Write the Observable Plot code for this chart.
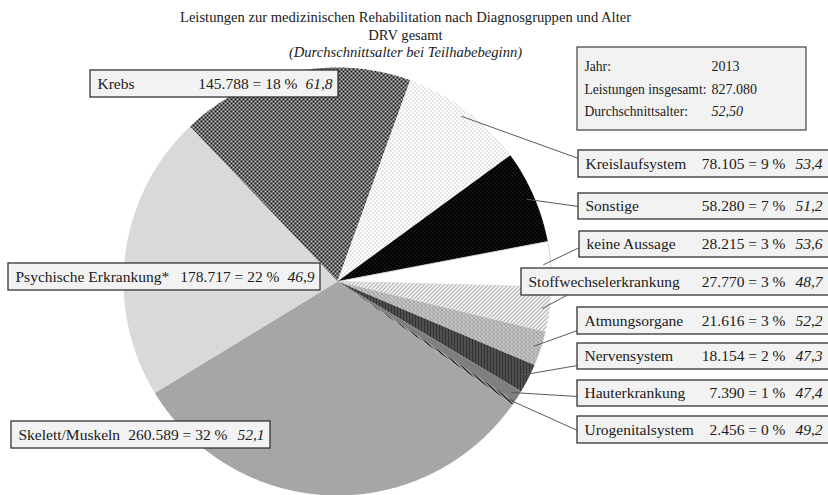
<!DOCTYPE html>
<html><head><meta charset="utf-8">
<script src="https://cdn.jsdelivr.net/npm/d3@7"></script>
<script src="https://cdn.jsdelivr.net/npm/@observablehq/plot@0.6"></script>
<style>
html,body{margin:0;padding:0;background:#fff;}
#chart{width:828px;height:495px;overflow:hidden;}
#chart svg text{font-family:"Liberation Serif","Times New Roman",serif;}
</style></head><body><div id="chart"></div>
<script>
// ---------- data ----------
const categories = ["Krebs","Kreislaufsystem","Sonstige","keine Aussage","Stoffwechselerkrankung","Atmungsorgane","Nervensystem","Hauterkrankung","Urogenitalsystem","Skelett/Muskeln","Psychische Erkrankung*"];
const counts = [145788,78105,58280,28215,27770,21616,18154,7390,2456,260589,178717];
const ages = [61.8,53.4,51.2,53.6,48.7,52.2,47.3,47.4,49.2,52.1,46.9];
const titleLines = ["Leistungen zur medizinischen Rehabilitation nach Diagnosgruppen und Alter","DRV gesamt","(Durchschnittsalter bei Teilhabebeginn)"];
const infoLabels = ["Jahr:","Leistungen insgesamt:","Durchschnittsalter:"];
const infoYear = "2013";
const meanAge = 52.50;

// ---------- styles ----------
const fills = ["url(#p-krebs)","url(#p-kreis)","url(#p-sonst)","#ffffff","url(#p-stoff)","url(#p-atm)","url(#p-nerv)","#7f7f7f","url(#p-uro)","#a6a6a6","#d9d9d9"];
const strokes = ["none","none","none","#c8c8c8","none","none","none","none","none","none","none"];
const patternDefs = `
<pattern id="p-krebs" width="4" height="4" patternUnits="userSpaceOnUse"><rect width="4" height="4" fill="#c4c4c4"/><rect width="2" height="2" fill="#111"/><rect x="2" y="2" width="2" height="2" fill="#111"/></pattern>
<pattern id="p-kreis" width="4" height="4" patternUnits="userSpaceOnUse"><rect width="4" height="4" fill="#fff"/><rect width="1" height="1" fill="#9a9a9a"/><rect x="2" y="2" width="1" height="1" fill="#9a9a9a"/></pattern>
<pattern id="p-sonst" width="4" height="4" patternUnits="userSpaceOnUse"><rect width="4" height="4" fill="#000"/><rect width="1" height="1" fill="#4a4a4a"/><rect x="2" y="2" width="1" height="1" fill="#4a4a4a"/></pattern>
<pattern id="p-stoff" width="4" height="4" patternUnits="userSpaceOnUse"><rect width="4" height="4" fill="#fff"/><path d="M0,4L4,0M-1,1L1,-1M3,5L5,3" stroke="#6e6e6e" stroke-width="1"/></pattern>
<pattern id="p-atm" width="4" height="4" patternUnits="userSpaceOnUse"><rect width="4" height="4" fill="#eeeeee"/><rect width="1" height="1" fill="#333"/><rect x="2" y="0" width="1" height="1" fill="#555"/><rect x="1" y="1" width="1" height="1" fill="#888"/><rect x="1" y="2" width="1" height="1" fill="#333"/><rect x="3" y="2" width="1" height="1" fill="#555"/><rect x="3" y="3" width="1" height="1" fill="#888"/></pattern>
<pattern id="p-nerv" width="3" height="3" patternUnits="userSpaceOnUse"><rect width="3" height="3" fill="#333"/><rect x="2" width="1" height="3" fill="#6a6a6a"/></pattern>
<pattern id="p-uro" width="4" height="4" patternUnits="userSpaceOnUse"><rect width="4" height="4" fill="#fff"/><path d="M0,0L4,4M-1,3L1,5M3,-1L5,1" stroke="#000" stroke-width="1.6"/></pattern>`;

// ---------- layout ----------
const W = 828, H = 495;
const CX = 337, CY = 281, R = 214;
const START = -43.6 * Math.PI / 180;
const FONT = '"Liberation Serif", "Times New Roman", serif';
const titlePos = [{x:405,y:17,italic:false},{x:405,y:35,italic:false},{x:405,y:52,italic:true}];
const boxes = [
  {x0:90, y0:70, x1:338,y1:97, numEnd:297},
  {x0:578,y0:150,x1:829,y1:177,numEnd:785, ax:578, ay:158},
  {x0:578,y0:193,x1:829,y1:219,numEnd:785, ax:578, ay:206},
  {x0:579,y0:231,x1:829,y1:257,numEnd:785, ax:579, ay:247},
  {x0:521,y0:268,x1:829,y1:295,numEnd:785, ax:566, ay:295},
  {x0:577,y0:307,x1:829,y1:334,numEnd:785, ax:577, ay:330},
  {x0:577,y0:343,x1:829,y1:369,numEnd:785, ax:577, ay:365},
  {x0:577,y0:380,x1:829,y1:406,numEnd:785, ax:577, ay:396},
  {x0:577,y0:416,x1:829,y1:443,numEnd:785, ax:577, ay:430},
  {x0:11, y0:421,x1:270,y1:448,numEnd:227},
  {x0:8,  y0:263,x1:320,y1:290,numEnd:279}
];
const infoBox = {x0:577,y0:47,x1:806,y1:130, labelX:584, valueX:711, rows:[66,89,111]};

// ---------- derived ----------
const de = d3.formatLocale({decimal:",", thousands:".", grouping:[3], currency:["","€"]});
const fmtInt = de.format(",d");
const fmtAge1 = de.format(".1f");
const fmtAge2 = de.format(".2f");
const total = d3.sum(counts);

const rows = categories.map((c,i)=>({cat:c, count:counts[i], age:ages[i], fill:fills[i], stroke:strokes[i], box:boxes[i]}));
const arcs = d3.pie().sort(null).value(d=>d.count).startAngle(START).endAngle(START+2*Math.PI)(rows);

const pt = (a, r) => ({x: CX + r*Math.sin(a), y: CY - r*Math.cos(a)});
const slicePts = [];
arcs.forEach(a=>{
  const d = a.data;
  slicePts.push({cat:d.cat, fill:d.fill, stroke:d.stroke, x:CX, y:CY});
  const n = Math.max(2, Math.ceil((a.endAngle-a.startAngle)/(0.4*Math.PI/180)));
  for(let k=0;k<=n;k++){
    const ang = a.startAngle + (a.endAngle-a.startAngle)*k/n;
    const p = pt(ang, R);
    slicePts.push({cat:d.cat, fill:d.fill, stroke:d.stroke, x:p.x, y:p.y});
  }
  slicePts.push({cat:d.cat, fill:d.fill, stroke:d.stroke, x:CX, y:CY});
});

const leaders = arcs.filter(a=>a.data.box.ax!=null).map(a=>{
  const p = pt((a.startAngle+a.endAngle)/2, R*0.965);
  return {x1:p.x, y1:p.y, x2:a.data.box.ax, y2:a.data.box.ay};
});

const labelRows = rows.map(d=>({
  name:d.cat,
  num:`${fmtInt(d.count)} = ${Math.round(d.count/total*100)} %`,
  age:fmtAge1(d.age),
  x0:d.box.x0, x1:d.box.x1, y0:d.box.y0, y1:d.box.y1,
  ym:(d.box.y0+d.box.y1)/2,
  nx:d.box.x0+7, numEnd:d.box.numEnd, ageEnd:Math.min(d.box.x1,W)-6
}));

const titleRows = titleLines.map((t,i)=>({text:t, ...titlePos[i]}));
const infoRows = infoLabels.map((l,i)=>({label:l, value:[infoYear, fmtInt(total), fmtAge2(meanAge)][i], italic:i===2, y:infoBox.rows[i]}));

const T = {fontFamily: FONT, fill:"#1a1a1a"};
const svg = Plot.plot({
  width: W, height: H, margin: 0,
  x: {domain:[0,W], range:[0,W], axis:null},
  y: {domain:[0,H], range:[0,H], axis:null},
  color: {type:"identity"},
  style: {fontFamily: FONT, background:"#fff", color:"#1a1a1a"},
  marks: [
    Plot.line(slicePts, {x:"x", y:"y", z:"cat", fill:"fill", stroke:"stroke", strokeWidth:0.8}),
    Plot.link(leaders, {x1:"x1", y1:"y1", x2:"x2", y2:"y2", stroke:"#5a5a5a", strokeWidth:1}),
    Plot.rect(labelRows, {x1:"x0", x2:"x1", y1:"y0", y2:"y1", fill:"#f2f2f2", stroke:"#333", strokeWidth:1.3}),
    Plot.text(labelRows, {x:"nx", y:"ym", text:"name", textAnchor:"start", fontSize:15.5, ...T}),
    Plot.text(labelRows, {x:"numEnd", y:"ym", text:"num", textAnchor:"end", fontSize:15.5, ...T}),
    Plot.text(labelRows, {x:"ageEnd", y:"ym", text:"age", textAnchor:"end", fontSize:15.5, fontStyle:"italic", ...T}),
    Plot.rect([infoBox], {x1:"x0", x2:"x1", y1:"y0", y2:"y1", fill:"#f2f2f2", stroke:"#404040", strokeWidth:1.2}),
    Plot.text(infoRows, {x:()=>infoBox.labelX, y:"y", text:"label", textAnchor:"start", fontSize:13.6, ...T}),
    Plot.text(infoRows.filter(d=>!d.italic), {x:()=>infoBox.valueX, y:"y", text:"value", textAnchor:"start", fontSize:14, ...T}),
    Plot.text(infoRows.filter(d=>d.italic), {x:()=>infoBox.valueX, y:"y", text:"value", textAnchor:"start", fontSize:14, fontStyle:"italic", ...T}),
    Plot.text(titleRows.filter(d=>!d.italic), {x:"x", y:"y", text:"text", fontSize:14.6, ...T}),
    Plot.text(titleRows.filter(d=>d.italic), {x:"x", y:"y", text:"text", fontSize:14.6, fontStyle:"italic", ...T})
  ]
});
d3.select(svg).insert("defs", ":first-child").html(patternDefs);
document.getElementById("chart").appendChild(svg);
</script></body></html>
